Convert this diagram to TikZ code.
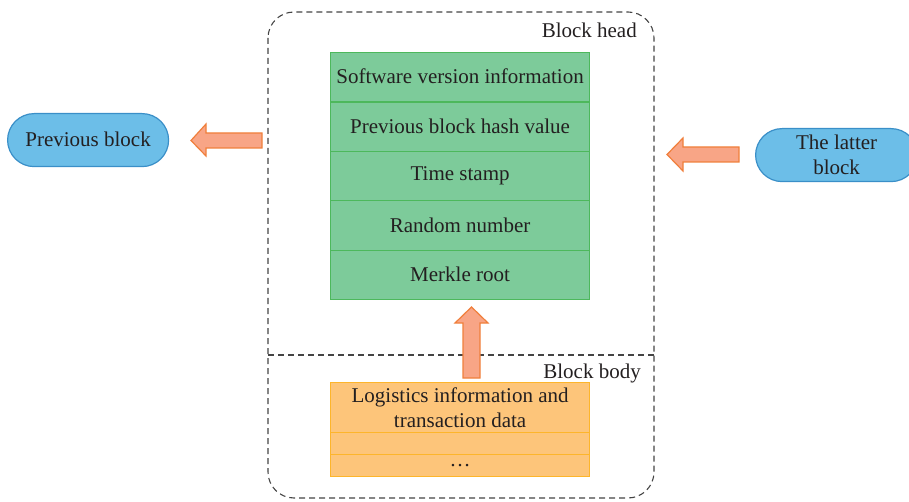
\documentclass[tikz,border=0pt]{standalone}
\usepackage{fontspec}
\setmainfont{Liberation Serif}
\usepackage{xcolor}
\definecolor{txt}{HTML}{231F20}
\definecolor{gfill}{HTML}{7DCB9A}
\definecolor{gline}{HTML}{4DB85C}
\definecolor{ofill}{HTML}{FDC57A}
\definecolor{oline}{HTML}{FDB52B}
\definecolor{afill}{HTML}{F8A586}
\definecolor{aline}{HTML}{F07F3C}
\definecolor{bfill}{HTML}{6CBEE8}
\definecolor{bline}{HTML}{3A8FC8}
\definecolor{dline}{HTML}{444444}
\begin{document}
\begin{tikzpicture}[x=1pt,y=-1pt,
  every node/.style={text=txt,font=\fontsize{21}{25}\selectfont,inner sep=0pt},
  greenrow/.style={draw=gline,fill=gfill,line width=1.2pt,minimum width=259pt,anchor=north west,rectangle},
  orangerow/.style={draw=oline,fill=ofill,line width=1.2pt,minimum width=259pt,anchor=north west,rectangle,align=center},
  bluebox/.style={draw=bline,fill=bfill,line width=1.2pt,rounded corners=26.5pt,rectangle,align=center},
  blockarrow/.style={draw=aline,fill=afill,line width=1.2pt,line join=miter},
  dashline/.style={draw=dline,line width=1.1pt,dash pattern=on 6pt off 4pt}]
\useasboundingbox (0,0) rectangle (909,502);
% outer dashed frame
\draw[dashline,rounded corners=26pt] (268,12) rectangle (654,498);
\coordinate (dl) at (268,355);
\coordinate (dr) at (654,355);
\draw[dashline] (dl) -- (dr);
\node[anchor=base east] (headlbl) at (637,38) {Block head};
\node[anchor=base east] (bodylbl) at (641,378) {Block body};
% green stack
\node[greenrow,minimum height=49.4pt] (g1) at (330,52) {\raisebox{1.5pt}{Software version information}};
\node[greenrow,minimum height=49.4pt] (g2) at (330,101.4) {\raisebox{1.5pt}{Previous block hash value}};
\node[greenrow,minimum height=49.4pt] (g3) at (330,150.8) {\raisebox{1.5pt}{Time stamp}};
\node[greenrow,minimum height=49.4pt] (g4) at (330,200.2) {\raisebox{1.5pt}{Random number}};
\node[greenrow,minimum height=49.4pt] (g5) at (330,249.6) {\raisebox{1.5pt}{Merkle root}};
% orange stack
\node[orangerow,minimum height=50pt] (o1) at (330,382) {Logistics information and\\transaction data};
\node[orangerow,minimum height=22pt] (o2) at (330,432) {};
\node[orangerow,minimum height=22pt] (o3) at (330,454) {\dots};
% blue nodes
\node[bluebox,minimum width=161pt,minimum height=53pt,anchor=north west] (prev) at (7,113) {\raisebox{2pt}{Previous block}};
\node[bluebox,minimum width=162pt,minimum height=53pt,anchor=north west] (latter) at (755,128) {The latter\\block};
% block arrows
\draw[blockarrow] (262,133) -- (206,133) -- (206,124) -- (191,140.5) -- (206,156) -- (206,148) -- (262,148) -- cycle;
\draw[blockarrow] (739,147) -- (683,147) -- (683,138) -- (667,154.5) -- (683,171) -- (683,162) -- (739,162) -- cycle;
\draw[blockarrow] (463,378) -- (463,323) -- (455,323) -- (471.5,307) -- (488,323) -- (480,323) -- (480,378) -- cycle;
\end{tikzpicture}
\end{document}
